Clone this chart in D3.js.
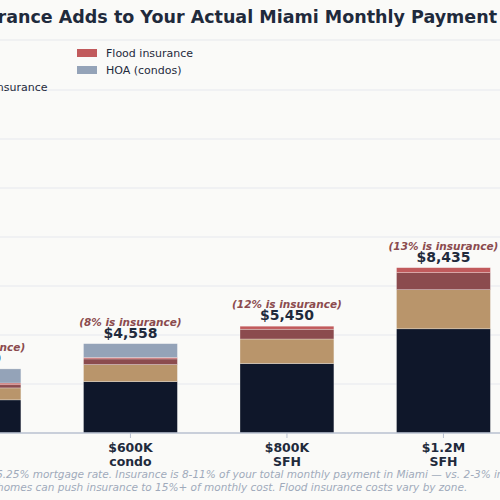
<!DOCTYPE html>
<html><head><meta charset="utf-8">
<script src="https://cdn.jsdelivr.net/npm/d3@7"></script>
<style>body{margin:0;background:#fafaf8}svg{display:block;font-family:"DejaVu Sans",sans-serif}</style>
</head><body><svg id="c" width="500" height="500"></svg>
<script>
const categories = ["$400K condo","$600K condo","$800K SFH","$1.2M SFH"];
const mortgage = [1690, 2620, 3543, 5315];
const propertyTax = [610, 870, 1253, 1995];
const homeInsurance = [160, 290, 500, 870];
const floodInsurance = [90, 75, 154, 255];
const hoa = [720, 703, 0, 0];
const totals = [3270, 4558, 5450, 8435];
const insurancePct = ["7%","8%","12%","13%"];
const seriesNames = ["Mortgage P&I","Property tax","Homeowners insurance","Flood insurance","HOA (condos)"];
const yTicks = [0,2500,5000,7500,10000,12500,15000,17500];

const colors = ["#0f172a","#b9956b","#8b4b4e","#c15a5c","#94a3b8"];
const svg = d3.select("#c");
svg.append("rect").attr("width",500).attr("height",500).attr("fill","#fafaf8");
const x = d3.scaleBand().domain(categories).range([-104.3,521.7]).paddingInner(0.4).paddingOuter(0.2);
const y = d3.scaleLinear().domain([0,17500]).range([433,90]);

svg.append("line").attr("x1",-200).attr("x2",520).attr("y1",40).attr("y2",40).attr("stroke","#e6e8ec");
svg.selectAll(".g").data(yTicks.slice(1)).join("line")
  .attr("x1",-200).attr("x2",520).attr("y1",d=>y(d)).attr("y2",d=>y(d))
  .attr("stroke","#e6e8ee").attr("stroke-width",1);

const rows = categories.map((c,i)=>({cat:c, v:[mortgage[i],propertyTax[i],homeInsurance[i],floodInsurance[i],hoa[i]]}));
const stack = d3.stack().keys([0,1,2,3,4]).value((d,k)=>d.v[k])(rows);
stack.forEach((s,k)=>{
  svg.selectAll(".s"+k).data(s).join("rect")
    .attr("x",d=>x(d.data.cat)).attr("width",x.bandwidth())
    .attr("y",d=>y(d[1])).attr("height",d=>Math.max(0,y(d[0])-y(d[1])))
    .attr("fill",colors[k]).attr("stroke","#fafaf8").attr("stroke-width",0.5).attr("stroke-opacity",0.6);
});
svg.append("line").attr("x1",-200).attr("x2",520).attr("y1",433).attr("y2",433).attr("stroke","#b8c0d0").attr("stroke-width",1.5);
categories.forEach((c,i)=>{
  const cx = x(c)+x.bandwidth()/2, top=y(totals[i]);
  svg.append("line").attr("x1",cx).attr("x2",cx).attr("y1",433).attr("y2",438).attr("stroke","#b8c0d0");
  const parts=c.split(" ");
  svg.append("text").attr("x",cx).attr("y",452).attr("text-anchor","middle").attr("font-size",12.5).attr("font-weight","bold").attr("fill","#1f2a3c").text(parts[0]);
  svg.append("text").attr("x",cx).attr("y",466).attr("text-anchor","middle").attr("font-size",12.5).attr("font-weight","bold").attr("fill","#1f2a3c").text(parts[1]);
  svg.append("text").attr("x",cx).attr("y",top-6).attr("text-anchor","middle").attr("font-size",14).attr("font-weight","bold").attr("fill","#1f2a3c").text("$"+d3.format(",")(totals[i]));
  svg.append("text").attr("x",cx).attr("y",top-18).attr("text-anchor","middle").attr("font-size",10.5).attr("font-weight","bold").attr("font-style","italic").attr("fill","#8b4b4e").text("("+insurancePct[i]+" is insurance)");
});

svg.append("text").attr("x",497).attr("y",23).attr("text-anchor","end").attr("font-size",17.5).attr("font-weight","bold").attr("fill","#1f2a3c").text("How Much Insurance Adds to Your Actual Miami Monthly Payment");

seriesNames.forEach((n,k)=>{
  const col = k<3?0:1, row = k<3?k:k-3;
  const lx = col===0 ? -111 : 77, ly = 53+row*17;
  svg.append("rect").attr("x",lx).attr("y",ly-4).attr("width",20).attr("height",8).attr("fill",colors[k]);
  svg.append("text").attr("x",lx+29).attr("y",ly+4).attr("font-size",11).attr("fill","#1f2a3c").text(n);
});

const foot = ["6.25% mortgage rate. Insurance is 8-11% of your total monthly payment in Miami — vs. 2-3% in most U.S. markets.",
 "homes can push insurance to 15%+ of monthly cost. Flood insurance costs vary by zone."];
svg.append("text").attr("x",-4).attr("y",478).attr("font-size",10.5).attr("font-style","italic").attr("fill","#a0aabb").text(foot[0]);
svg.append("text").attr("x",-3).attr("y",491).attr("font-size",10.5).attr("font-style","italic").attr("fill","#a0aabb").text(foot[1]);
</script></body></html>
